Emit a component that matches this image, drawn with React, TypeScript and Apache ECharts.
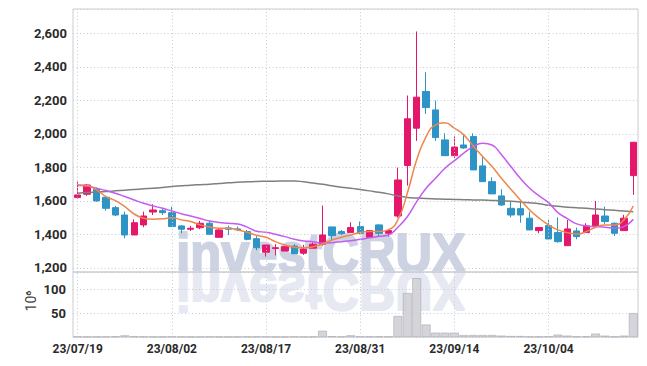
import React, { useEffect, useRef } from 'react';
import * as echarts from 'echarts';

const dates = [
  '23/07/19', '23/07/20', '23/07/21', '23/07/24', '23/07/25', '23/07/26', '23/07/27', '23/07/28', '23/07/31', '23/08/01',
  '23/08/02', '23/08/03', '23/08/04', '23/08/07', '23/08/08', '23/08/09', '23/08/10', '23/08/11', '23/08/14', '23/08/16',
  '23/08/17', '23/08/18', '23/08/21', '23/08/22', '23/08/23', '23/08/24', '23/08/25', '23/08/28', '23/08/29', '23/08/30',
  '23/08/31', '23/09/01', '23/09/04', '23/09/05', '23/09/06', '23/09/07', '23/09/08', '23/09/11', '23/09/12', '23/09/13',
  '23/09/14', '23/09/15', '23/09/18', '23/09/19', '23/09/20', '23/09/21', '23/09/22', '23/09/25', '23/09/26', '23/09/27',
  '23/10/04', '23/10/05', '23/10/06', '23/10/10', '23/10/11', '23/10/12', '23/10/13', '23/10/16', '23/10/17', '23/10/18',
];

const opens = [
  1620, 1640, 1670, 1622, 1560, 1516, 1397, 1457, 1534, 1542,
  1530, 1451, 1431, 1440, 1467, 1383, 1439, 1433, 1417, 1375,
  1294, 1316, 1301, 1331, 1288, 1318, 1342, 1445, 1417, 1411,
  1447, 1383, 1457, 1407, 1510, 1811, 2034, 2253, 2143, 1964,
  1870, 1934, 1984, 1809, 1715, 1630, 1556, 1554, 1497, 1423,
  1453, 1411, 1333, 1421, 1411, 1451, 1510, 1467, 1423, 1751,
];
const closes = [
  1636, 1695, 1600, 1556, 1516, 1397, 1470, 1510, 1546, 1530,
  1447, 1431, 1437, 1467, 1401, 1427, 1431, 1428, 1371, 1321,
  1337, 1321, 1327, 1285, 1313, 1342, 1397, 1393, 1405, 1441,
  1407, 1423, 1407, 1423, 1725, 2090, 2219, 2157, 1978, 1870,
  1921, 1916, 1785, 1715, 1642, 1576, 1516, 1516, 1427, 1441,
  1373, 1357, 1433, 1387, 1451, 1516, 1477, 1407, 1497, 1950,
];
const lows = [
  1612, 1630, 1595, 1542, 1510, 1377, 1397, 1443, 1516, 1516,
  1447, 1407, 1421, 1431, 1401, 1383, 1397, 1421, 1365, 1306,
  1268, 1275, 1301, 1285, 1278, 1318, 1333, 1367, 1397, 1411,
  1400, 1383, 1391, 1388, 1500, 1691, 1958, 2119, 1958, 1870,
  1855, 1910, 1785, 1715, 1642, 1570, 1502, 1470, 1427, 1407,
  1373, 1351, 1333, 1371, 1411, 1451, 1463, 1391, 1423, 1636,
];
const highs = [
  1715, 1700, 1680, 1630, 1570, 1536, 1490, 1536, 1580, 1560,
  1566, 1455, 1451, 1481, 1481, 1431, 1453, 1447, 1427, 1390,
  1337, 1342, 1330, 1342, 1337, 1352, 1572, 1445, 1427, 1473,
  1477, 1427, 1461, 1433, 1799, 2229, 2611, 2368, 2199, 2004,
  1985, 1994, 2004, 1861, 1741, 1670, 1600, 1596, 1536, 1441,
  1487, 1502, 1487, 1441, 1467, 1600, 1566, 1471, 1517, 1950,
];

// volume, in units of 10^6
const volumes = [
  0.8, 0.6, 0.5, 0.6, 1.0, 3.5, 1.2, 0.8, 0.5, 0.5,
  0.9, 0.5, 0.4, 0.5, 0.6, 0.5, 0.4, 0.4, 0.6, 0.8,
  0.7, 0.5, 0.4, 0.6, 0.5, 0.6, 13, 1.5, 0.8, 3.5,
  1.2, 0.9, 1.0, 0.8, 44, 92, 123, 26, 9, 9,
  9, 4, 4, 4, 4, 2.8, 2, 2, 0.8, 0.7,
  1.2, 4.9, 2.8, 1.0, 1.2, 7, 2.8, 0.7, 2.8, 50,
];

const ma5 = [
  1692, 1690, 1666, 1626, 1602, 1566, 1522, 1497, 1491, 1493,
  1500, 1487, 1477, 1457, 1445, 1437, 1437, 1427, 1413, 1395,
  1383, 1357, 1337, 1324, 1321, 1327, 1343, 1367, 1383, 1397,
  1412, 1417, 1417, 1427, 1487, 1646, 1845, 1984, 2054, 2066,
  2034, 1994, 1928, 1865, 1805, 1735, 1670, 1606, 1546, 1497,
  1457, 1427, 1411, 1403, 1417, 1443, 1457, 1457, 1487, 1570,
];
const ma10 = [
  1695, 1690, 1676, 1662, 1646, 1626, 1606, 1586, 1570, 1556,
  1540, 1524, 1510, 1495, 1480, 1472, 1467, 1462, 1444, 1419,
  1413, 1401, 1387, 1371, 1361, 1357, 1349, 1351, 1357, 1363,
  1371, 1380, 1389, 1397, 1443, 1506, 1596, 1676, 1735, 1795,
  1840, 1885, 1924, 1944, 1934, 1875, 1805, 1735, 1676, 1630,
  1590, 1530, 1495, 1463, 1451, 1447, 1443, 1437, 1447, 1491,
];
const maLong = [
  1646, 1650, 1653, 1656, 1660, 1664, 1668, 1672, 1676, 1680,
  1686, 1690, 1694, 1697, 1700, 1704, 1708, 1711, 1714, 1716,
  1717, 1718, 1719, 1719, 1714, 1707, 1699, 1690, 1682, 1676,
  1668, 1660, 1652, 1642, 1630, 1621, 1617, 1614, 1612, 1610,
  1609, 1607, 1606, 1605, 1603, 1601, 1598, 1594, 1589, 1583,
  1574, 1568, 1563, 1559, 1556, 1552, 1548, 1544, 1540, 1536,
];

const gridDates = ['23/07/19', '23/08/02', '23/08/17', '23/08/31', '23/09/14', '23/10/04'];

const UP = '#e5176b';
const DOWN = '#2d94c5';
const GRID_LINE = '#c5cadc';
const BORDER = '#cdcdcd';

export default function App() {
  const ref = useRef<HTMLDivElement>(null);

  useEffect(() => {
    if (!ref.current) return;
    const chart = echarts.init(ref.current, undefined, { renderer: 'svg' });
    const vLines = {
      silent: true,
      symbol: ['none', 'none'],
      label: { show: false },
      lineStyle: { color: GRID_LINE, type: [1, 2.5], width: 1 },
      emphasis: { disabled: true },
      data: gridDates.map((d) => ({ xAxis: d })),
    };
    const wmFont = 'bold 55px "Liberation Sans", Arial, sans-serif';
    const labelStyle = { fontSize: 13, color: '#2a2a2a', fontFamily: 'Roboto, sans-serif', fontWeight: 'bold' };
    chart.setOption({
      animation: false,
      backgroundColor: '#ffffff',
      grid: [
        { left: 73, right: 9, top: 9, height: 263, show: true, borderColor: BORDER, borderWidth: 1 },
        { left: 73, right: 9, top: 272, height: 65, show: true, borderColor: BORDER, borderWidth: 1 },
      ],
      xAxis: [
        {
          type: 'category', gridIndex: 0, data: dates, boundaryGap: true,
          axisLine: { show: false }, axisTick: { show: false }, axisLabel: { show: false }, splitLine: { show: false },
        },
        {
          type: 'category', gridIndex: 1, data: dates, boundaryGap: true,
          axisLine: { show: false }, axisTick: { show: false }, splitLine: { show: false },
          axisLabel: { interval: 9, margin: 6, ...labelStyle, fontSize: 12 },
        },
      ],
      yAxis: [
        {
          type: 'value', gridIndex: 0, min: 1176, max: 2745, minInterval: 200, maxInterval: 200,
          axisLine: { show: false }, axisTick: { show: false },
          axisLabel: {
            margin: 6, ...labelStyle,
            formatter: (v: number) => (v % 200 === 0 ? v.toLocaleString('en-US') : ''),
          },
          splitLine: { lineStyle: { color: GRID_LINE, type: [1, 2.5], width: 1 } },
        },
        {
          type: 'value', gridIndex: 1, min: 0, max: 136, minInterval: 50, maxInterval: 50,
          axisLine: { show: false }, axisTick: { show: false },
          axisLabel: {
            margin: 7, ...labelStyle,
            formatter: (v: number) => (v === 50 || v === 100 ? String(v) : ''),
          },
          splitLine: { lineStyle: { color: GRID_LINE, type: [1, 2.5], width: 1 } },
        },
      ],
      graphic: [
        {
          type: 'text', x: 321, y: 272, scaleX: 0.92, z: -1, silent: true,
          style: {
            text: 'investCRUX', x: 0, y: -19, textAlign: 'center', textVerticalAlign: 'middle', font: wmFont,
            fill: '#cdd3e3', stroke: '#cdd3e3', lineWidth: 2,
          },
        },
        {
          type: 'text', x: 321, y: 272, scaleX: 0.92, scaleY: -1, z: -1, silent: true,
          style: {
            text: 'investCRUX', x: 0, y: -19, textAlign: 'center', textVerticalAlign: 'middle', font: wmFont,
            fill: '#e6e9f1', stroke: '#e6e9f1', lineWidth: 2,
          },
        },
        {
          type: 'text', x: 31, y: 301, rotation: Math.PI / 2, silent: true,
          style: { text: '10⁶', textAlign: 'center', textVerticalAlign: 'middle', font: '14px Roboto, sans-serif', fill: '#444' },
        },
      ],
      series: [
        {
          type: 'candlestick', xAxisIndex: 0, yAxisIndex: 0, barWidth: '72%',
          data: dates.map((_, i) => [opens[i], closes[i], lows[i], highs[i]]),
          itemStyle: { color: UP, color0: DOWN, borderColor: UP, borderColor0: DOWN, borderWidth: 1 },
          markLine: vLines,
        },
        {
          type: 'line', name: 'MA120', xAxisIndex: 0, yAxisIndex: 0, data: maLong, smooth: true,
          showSymbol: false, lineStyle: { color: '#7f7f7f', width: 1.5 }, silent: true,
        },
        {
          type: 'line', name: 'MA10', xAxisIndex: 0, yAxisIndex: 0, data: ma10, smooth: true,
          showSymbol: false, lineStyle: { color: '#c65bef', width: 1.5 }, silent: true,
        },
        {
          type: 'line', name: 'MA5', xAxisIndex: 0, yAxisIndex: 0, data: ma5, smooth: true,
          showSymbol: false, lineStyle: { color: '#ee874c', width: 1.5 }, silent: true,
        },
        {
          type: 'bar', xAxisIndex: 1, yAxisIndex: 1, data: volumes, barCategoryGap: '6%',
          itemStyle: { color: 'rgba(205,205,212,0.85)', borderColor: '#a9a9b2', borderWidth: 0.6 },
          markLine: vLines,
        },
      ],
    });
    return () => chart.dispose();
  }, []);

  return <div ref={ref} style={{ position: 'fixed', left: 0, top: 0, width: 647, height: 366 }} />;
}
